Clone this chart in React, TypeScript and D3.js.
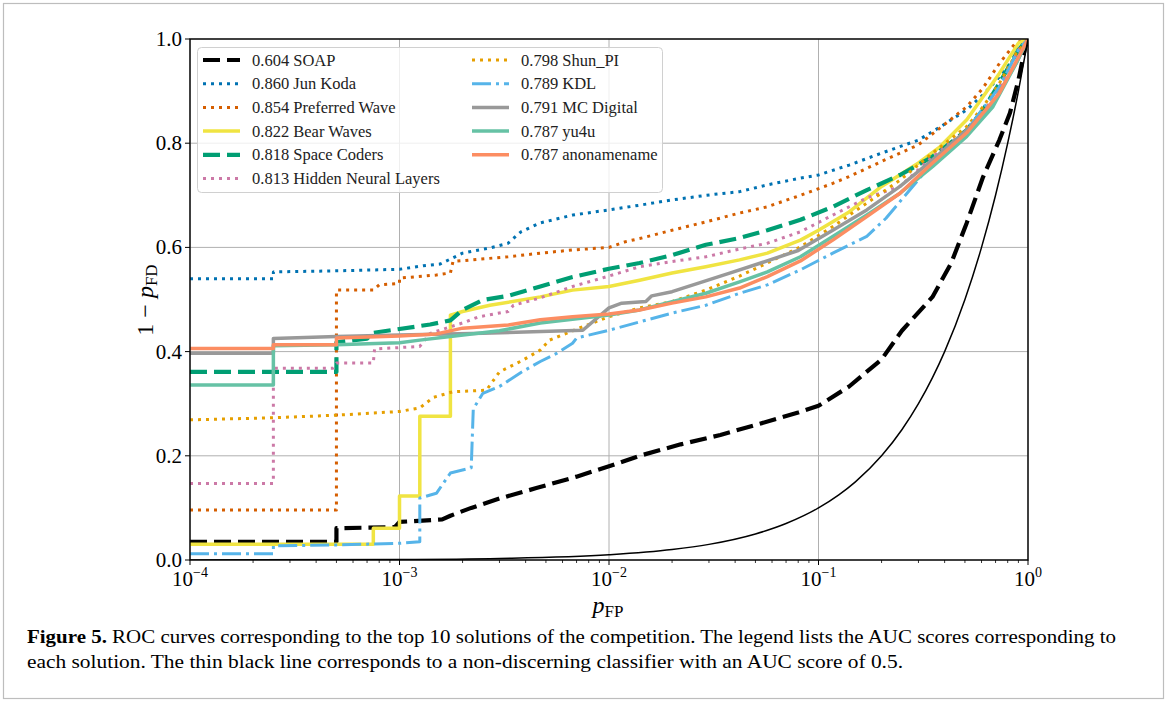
import React from 'react'
import * as d3 from 'd3'

// ROC points [pFP, 1 - pFD]
const soap = [[1e-4,.035],[5e-4,.035],[5e-4,.061],[9.5e-4,.063],[1e-3,.073],[1.6e-3,.078],[1.75e-3,.085],[2.2e-3,.1],[3e-3,.118],[4.5e-3,.138],[7e-3,.16],[1e-2,.18],[1.4e-2,.2],[2.2e-2,.222],[3.4e-2,.24],[5.3e-2,.262],[8e-2,.283],[0.1,.296],[0.14,.333],[0.2,.385],[0.25,.44],[0.35,.505],[0.43,.57],[0.51,.647],[0.61,.735],[0.73,.806],[0.82,.858],[0.9,.921],[0.97,.985],[1,1]]
const junKoda = [[1e-4,.54],[2.5e-4,.54],[2.5e-4,.553],[5e-4,.555],[1e-3,.558],[1.3e-3,.565],[1.56e-3,.568],[2e-3,.589],[2.7e-3,.599],[3.3e-3,.608],[3.8e-3,.63],[4.7e-3,.647],[6.7e-3,.662],[1e-2,.672],[1.4e-2,.681],[2e-2,.691],[2.9e-2,.70],[4.2e-2,.707],[5.7e-2,.72],[8.2e-2,.733],[0.1,.739],[0.14,.758],[0.2,.781],[0.3,.806],[0.38,.831],[0.51,.864],[0.61,.893],[0.73,.927],[0.85,.96],[0.97,.998],[1,1]]
const preferredWave = [[1e-4,.096],[5e-4,.096],[5e-4,.518],[7.5e-4,.518],[8e-4,.528],[1e-3,.531],[1e-3,.541],[1.5e-3,.547],[1.75e-3,.551],[1.8e-3,.573],[2.2e-3,.576],[3.3e-3,.582],[4.7e-3,.589],[6.7e-3,.595],[1e-2,.60],[1.2e-2,.611],[1.4e-2,.617],[2e-2,.633],[2.9e-2,.649],[4.2e-2,.666],[5.7e-2,.678],[8.2e-2,.70],[0.117,.723],[0.14,.736],[0.2,.765],[0.3,.797],[0.38,.829],[0.51,.87],[0.61,.906],[0.73,.953],[0.87,.992],[1,1]]
const bearWaves = [[1e-4,.03],[7.5e-4,.03],[7.5e-4,.061],[1e-3,.061],[1e-3,.123],[1.25e-3,.123],[1.25e-3,.276],[1.75e-3,.276],[1.75e-3,.47],[2e-3,.477],[2.7e-3,.489],[4.7e-3,.505],[6.7e-3,.518],[1e-2,.525],[1.4e-2,.537],[2e-2,.551],[2.9e-2,.563],[4.2e-2,.576],[5.7e-2,.589],[8.2e-2,.614],[0.1,.633],[0.14,.668],[0.2,.717],[0.3,.762],[0.38,.793],[0.51,.845],[0.61,.889],[0.73,.934],[0.9,.992],[1,1]]
const spaceCoders = [[1e-4,.361],[5e-4,.361],[5e-4,.418],[7e-4,.425],[7.5e-4,.436],[1.4e-3,.452],[1.75e-3,.46],[2e-3,.48],[2.5e-3,.499],[3.3e-3,.507],[4.7e-3,.525],[6.7e-3,.543],[1e-2,.559],[1.4e-2,.57],[2e-2,.585],[2.9e-2,.605],[4.2e-2,.618],[5.7e-2,.633],[8.2e-2,.653],[0.117,.678],[0.17,.71],[0.245,.739],[0.35,.774],[0.51,.825],[0.61,.864],[0.73,.915],[0.9,.979],[1,1]]
const hiddenNeural = [[1e-4,.147],[2.5e-4,.147],[2.5e-4,.368],[4.8e-4,.368],[5e-4,.378],[7.5e-4,.378],[7.6e-4,.405],[1.25e-3,.41],[1.4e-3,.435],[2e-3,.455],[2.4e-3,.467],[3.3e-3,.477],[3.5e-3,.489],[4.7e-3,.503],[6.7e-3,.525],[1e-2,.545],[1.4e-2,.563],[2e-2,.573],[2.9e-2,.582],[4.2e-2,.597],[5.7e-2,.608],[8.2e-2,.63],[0.117,.662],[0.17,.695],[0.245,.717],[0.35,.774],[0.51,.825],[0.61,.858],[0.73,.908],[0.9,.979],[1,1]]
const shunPI = [[1e-4,.269],[2.5e-4,.273],[5e-4,.278],[1e-3,.285],[1.25e-3,.292],[1.45e-3,.312],[1.8e-3,.323],[2.6e-3,.326],[3e-3,.361],[3.9e-3,.384],[4.7e-3,.403],[5.2e-3,.422],[7.2e-3,.445],[1e-2,.467],[1.4e-2,.484],[2e-2,.496],[2.9e-2,.518],[4.2e-2,.545],[5.7e-2,.57],[8.2e-2,.601],[0.117,.64],[0.17,.685],[0.245,.729],[0.35,.781],[0.51,.832],[0.61,.87],[0.73,.915],[0.88,.973],[1,1]]
const kdl = [[1e-4,.012],[2.5e-4,.012],[2.5e-4,.027],[5e-4,.029],[1e-3,.032],[1.25e-3,.035],[1.25e-3,.119],[1.5e-3,.128],[1.75e-3,.167],[2.2e-3,.177],[2.25e-3,.29],[2.5e-3,.32],[3e-3,.333],[3.8e-3,.36],[4.7e-3,.381],[5.65e-3,.397],[6.7e-3,.416],[7e-3,.426],[1e-2,.441],[1.4e-2,.457],[2e-2,.474],[2.9e-2,.489],[4.2e-2,.512],[5.7e-2,.528],[8.2e-2,.557],[0.117,.589],[0.17,.621],[0.21,.656],[0.35,.762],[0.51,.825],[0.73,.908],[0.9,.979],[1,1]]
const mcDigital = [[1e-4,.397],[2.5e-4,.397],[2.5e-4,.425],[5e-4,.429],[1e-3,.432],[2.5e-3,.435],[7.5e-3,.441],[1e-2,.484],[1.15e-2,.493],[1.5e-2,.496],[1.6e-2,.507],[2e-2,.515],[2.7e-2,.532],[3.8e-2,.551],[5.3e-2,.57],[8e-2,.594],[0.117,.633],[0.17,.672],[0.245,.717],[0.35,.768],[0.51,.825],[0.68,.877],[0.88,.954],[1,1]]
const yu4u = [[1e-4,.336],[2.5e-4,.336],[2.5e-4,.411],[5e-4,.413],[1e-3,.417],[1.25e-3,.422],[1.75e-3,.429],[3e-3,.44],[4.7e-3,.455],[1e-2,.47],[1.4e-2,.48],[2e-2,.496],[2.9e-2,.512],[4.2e-2,.534],[5.7e-2,.553],[8.2e-2,.582],[0.117,.621],[0.17,.662],[0.245,.704],[0.35,.755],[0.51,.813],[0.68,.87],[0.88,.954],[1,1]]
const anonamename = [[1e-4,.406],[2.5e-4,.406],[2.5e-4,.413],[5e-4,.413],[5e-4,.426],[1e-3,.43],[1.5e-3,.434],[2e-3,.445],[3.3e-3,.451],[4.7e-3,.461],[6.7e-3,.467],[1e-2,.472],[1.4e-2,.48],[2e-2,.493],[2.9e-2,.505],[4.2e-2,.522],[5.7e-2,.544],[8.2e-2,.574],[0.117,.614],[0.17,.659],[0.245,.704],[0.35,.762],[0.51,.82],[0.73,.896],[0.9,.965],[1,1]]
// non-discerning classifier
const chance = [[1e-4,1e-4],[1e-3,1e-3],[3e-3,3e-3],[1e-2,1e-2],[0.02,0.02],[0.03,0.03],[0.05,0.05],[0.07,0.07],[0.1,0.1],[0.125,0.125],[0.15,0.15],[0.2,0.2],[0.25,0.25],[0.3,0.3],[0.35,0.35],[0.4,0.4],[0.5,0.5],[0.6,0.6],[0.7,0.7],[0.8,0.8],[0.9,0.9],[1,1]]

const names = ['SOAP', 'Jun Koda', 'Preferred Wave', 'Bear Waves', 'Space Coders', 'Hidden Neural Layers', 'Shun_PI', 'KDL', 'MC Digital', 'yu4u', 'anonamename']
const aucs = ['0.604', '0.860', '0.854', '0.822', '0.818', '0.813', '0.798', '0.789', '0.791', '0.787', '0.787']
const curves = [soap, junKoda, preferredWave, bearWaves, spaceCoders, hiddenNeural, shunPI, kdl, mcDigital, yu4u, anonamename]
const yTicks = [0, 0.2, 0.4, 0.6, 0.8, 1.0]
const xTicks = [1e-4, 1e-3, 1e-2, 1e-1, 1]
const xTickExp = ['−4', '−3', '−2', '−1', '0']

const DOT = '3 5'
const DASH = '17 7'
const styles = [
  { color: '#000000', width: 4.2, dash: DASH },
  { color: '#0072B2', width: 3, dash: DOT },
  { color: '#D55E00', width: 3, dash: DOT },
  { color: '#F0E442', width: 3.5, dash: null },
  { color: '#009E73', width: 4.2, dash: DASH },
  { color: '#CC79A7', width: 3, dash: DOT },
  { color: '#E69F00', width: 3, dash: DOT },
  { color: '#56B4E9', width: 3, dash: '19 5 3 5' },
  { color: '#999999', width: 3.5, dash: null },
  { color: '#66C2A5', width: 3.5, dash: null },
  { color: '#FC8D62', width: 3.5, dash: null },
]

const FONT = "'Liberation Serif', serif"

const App = () => {
  const left = 190, right = 1028, top = 39, bottom = 560

  const x = d3.scaleLog().domain([1e-4, 1]).range([left, right])
  const y = d3.scaleLinear().domain([0, 1]).range([bottom, top])
  const line = d3.line<number[]>().x(d => x(d[0])).y(d => y(d[1]))
  const smooth = d3.line<number[]>().x(d => x(d[0])).y(d => y(d[1])).curve(d3.curveMonotoneX)

  const minor: number[] = []
  for (let k = -4; k < 0; k++) for (let j = 2; j < 10; j++) minor.push(j * Math.pow(10, k))

  const legendRows = 6
  const rowH = 23.7

  return (
    <svg width={1168} height={702} style={{ position: 'absolute', left: 0, top: 0, background: '#fff', fontFamily: FONT }}>
      <rect x={3.5} y={3.5} width={1160} height={695} fill="#fff" stroke="#bdbdbd" strokeWidth={1.2} />

      {/* grid */}
      <g stroke="#b0b0b0" strokeWidth={1}>
        {xTicks.map(t => <line key={'gx' + t} x1={x(t)} x2={x(t)} y1={top} y2={bottom} />)}
        {yTicks.map(t => <line key={'gy' + t} x1={left} x2={right} y1={y(t)} y2={y(t)} />)}
      </g>

      <defs>
        <clipPath id="plot"><rect x={left} y={top} width={right - left} height={bottom - top} /></clipPath>
      </defs>

      <g clipPath="url(#plot)" fill="none">
        {curves.map((c, i) => (
          <path key={names[i]} d={line(c) || ''} stroke={styles[i].color} strokeWidth={styles[i].width}
            strokeDasharray={styles[i].dash || undefined} strokeLinejoin="round" />
        ))}
        <path d={smooth(chance) || ''} stroke="#000" strokeWidth={1.5} />
      </g>

      {/* frame */}
      <rect x={left} y={top} width={right - left} height={bottom - top} fill="none" stroke="#000" strokeWidth={1.4} />

      {/* ticks */}
      <g stroke="#000">
        {xTicks.map(t => <line key={'tx' + t} x1={x(t)} x2={x(t)} y1={bottom} y2={bottom + 5} strokeWidth={1} />)}
        {minor.map(t => <line key={'mx' + t} x1={x(t)} x2={x(t)} y1={bottom} y2={bottom + 3} strokeWidth={0.8} />)}
        {yTicks.map(t => <line key={'ty' + t} x1={left - 5} x2={left} y1={y(t)} y2={y(t)} strokeWidth={1} />)}
      </g>
      <g fontSize={21} fill="#000">
        {yTicks.map(t => (
          <text key={'ly' + t} x={left - 8} y={y(t) + 7} textAnchor="end">{t.toFixed(1)}</text>
        ))}
        {xTicks.map((t, i) => (
          <text key={'lx' + t} x={x(t)} y={bottom + 26} textAnchor="middle">
            10<tspan fontSize={14} dy={-9}>{xTickExp[i]}</tspan>
          </text>
        ))}
      </g>

      {/* axis labels */}
      <text x={608} y={613} textAnchor="middle" fontSize={24}>
        <tspan fontStyle="italic">p</tspan><tspan fontSize={17} dy={4}>FP</tspan>
      </text>
      <text transform="translate(153,300) rotate(-90)" textAnchor="middle" fontSize={24}>
        1 − <tspan fontStyle="italic">p</tspan><tspan fontSize={17} dy={4}>FD</tspan>
      </text>

      {/* legend */}
      <rect x={197.5} y={47.5} width={465} height={145} rx={4} fill="#fff" fillOpacity={0.8} stroke="#d0d0d0" strokeWidth={1} />
      {names.map((n, i) => {
        const col = Math.floor(i / legendRows)
        const row = i % legendRows
        const hx = col === 0 ? 203 : 472
        const cy = 60 + row * rowH
        const s = styles[i]
        return (
          <g key={'lg' + n}>
            <line x1={hx} x2={hx + 37} y1={cy} y2={cy} stroke={s.color} strokeWidth={s.width} strokeDasharray={s.dash || undefined} />
            <text x={hx + 49} y={cy + 5.5} fontSize={16.5} fill="#222">{aucs[i]} {n}</text>
          </g>
        )
      })}

      {/* caption */}
      <g fontSize={19}>
        <text x={27} y={643} textLength={1089} lengthAdjust="spacingAndGlyphs">
          <tspan fontWeight="bold">Figure 5.</tspan> ROC curves corresponding to the top 10 solutions of the competition. The legend lists the AUC scores corresponding to
        </text>
        <text x={27} y={668} textLength={876} lengthAdjust="spacingAndGlyphs">
          each solution. The thin black line corresponds to a non-discerning classifier with an AUC score of 0.5.
        </text>
      </g>
    </svg>
  )
}

export default App
